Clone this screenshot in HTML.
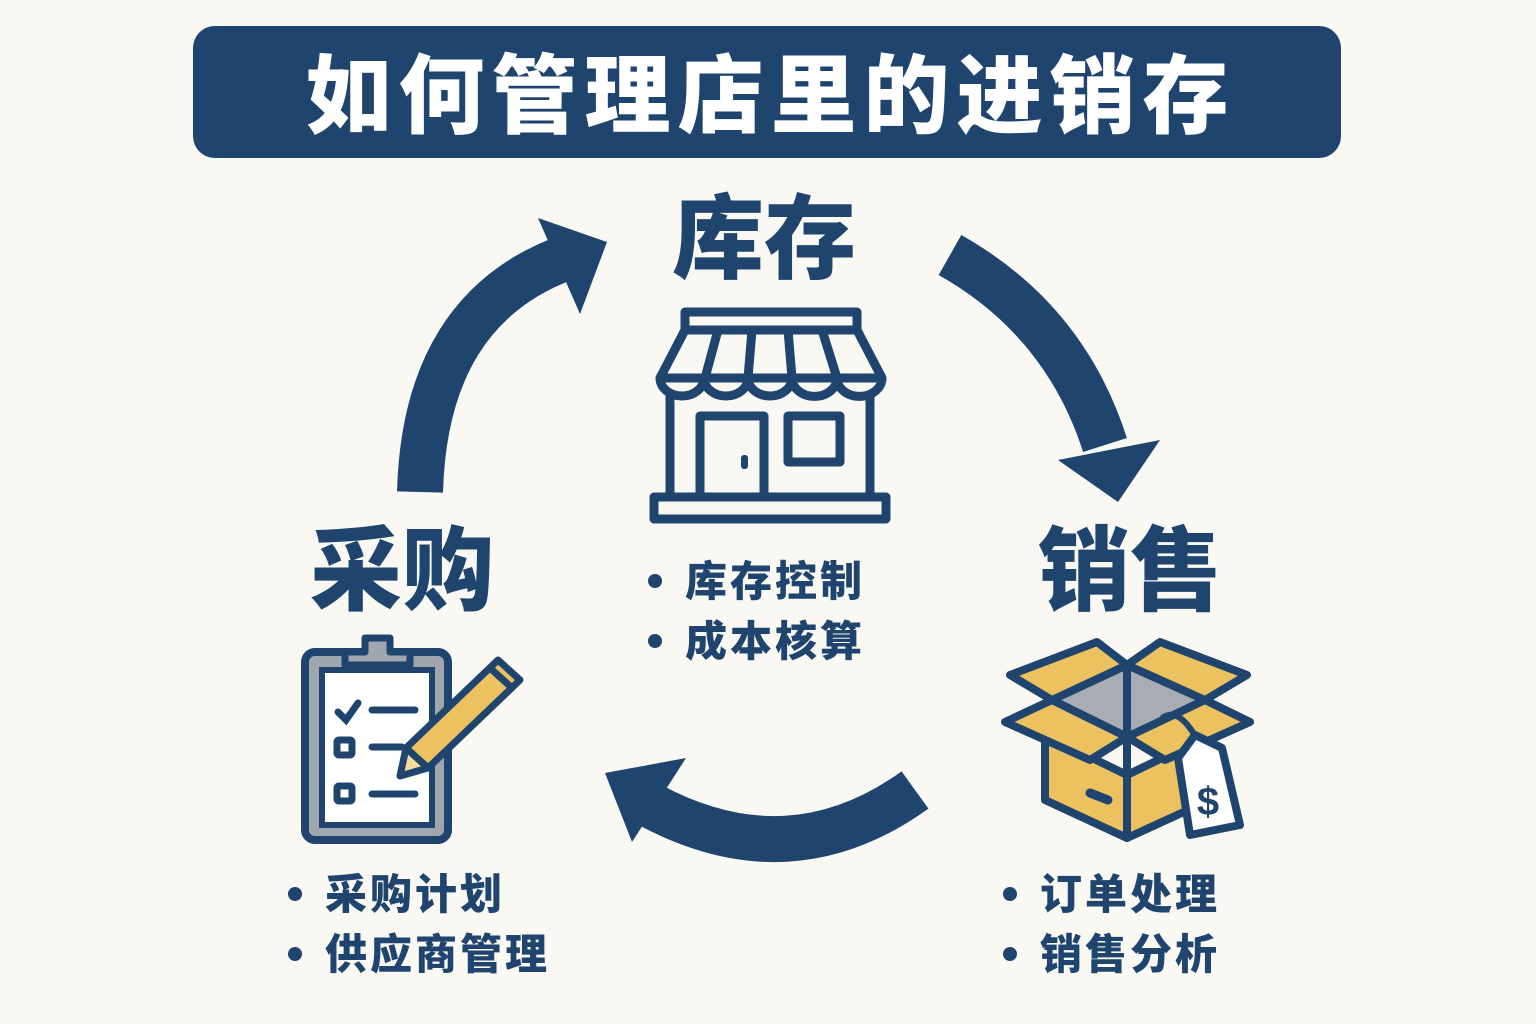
<!DOCTYPE html>
<html><head><meta charset="utf-8"><style>
body{margin:0;width:1536px;height:1024px;background:#f9f8f3;overflow:hidden;font-family:"Liberation Sans","Noto Sans CJK SC",sans-serif;}
.t{position:absolute;font-weight:900;color:#1f456e;white-space:nowrap}
.b{position:absolute;width:14px;height:14px;border-radius:50%;background:#1f456e}
.l{position:absolute;font-weight:900;color:#1f456e;white-space:nowrap;font-size:42px;line-height:60px;letter-spacing:3px}
</style></head><body>
<div style="position:absolute;left:193px;top:26px;width:1148px;height:132px;background:#1f456e;border-radius:22px"></div>
<div class="t" style="left:193px;width:1148px;top:42px;text-align:center;color:#fff;font-size:86px;line-height:110px;letter-spacing:7px;text-indent:7px">如何管理店里的进销存</div>
<div class="t" style="left:672px;top:190px;font-size:92px;line-height:100px">库存</div>
<div class="t" style="left:310px;top:522px;font-size:92px;line-height:100px">采购</div>
<div class="t" style="left:1038px;top:522px;font-size:92px;line-height:100px">销售</div>
<div class="b" style="left:648px;top:574px"></div><div class="b" style="left:648px;top:634px"></div>
<div class="l" style="left:685px;top:552px">库存控制<br>成本核算</div>
<div class="b" style="left:288px;top:887px"></div><div class="b" style="left:288px;top:947px"></div>
<div class="l" style="left:325px;top:865px">采购计划<br>供应商管理</div>
<div class="b" style="left:1003px;top:887px"></div><div class="b" style="left:1003px;top:947px"></div>
<div class="l" style="left:1040px;top:865px">订单处理<br>销售分析</div>
<svg width="1536" height="1024" style="position:absolute;left:0;top:0">
<g fill="none" stroke="#1f456e" stroke-width="46">
<path d="M420,492 Q425,310 565,258"/>
<path d="M950,255 Q1065,320 1105,445"/>
<path d="M915,790 Q790,880 650,805"/>
</g>
<g fill="#1f456e">
<polygon points="538,218 607,242 580,314"/>
<polygon points="1058,460 1160,440 1118,502"/>
<polygon points="605,773 686,758 632,842"/>
</g>
<g fill="none" stroke="#1f456e" stroke-width="9" stroke-linejoin="round">
<rect x="685" y="312" width="172" height="18"/>
<path d="M685,330 L660,378 H882 L857,330 Z"/>
<path d="M718,330 L705,378 M752,330 L748,378 M788,330 L792,378 M822,330 L837,378"/>
<path d="M660,378 a22,18 0 0 0 44,0 a22,18 0 0 0 44,0 a22,18 0 0 0 44,0 a22,18 0 0 0 45,0 a22,18 0 0 0 45,0"/>
<path d="M670,395 V497 M870,395 V497"/>
<rect x="654" y="497" width="232" height="22"/>
<rect x="700" y="416" width="64" height="81"/>
<rect x="788" y="416" width="52" height="46"/>
</g>
<rect x="741" y="455" width="7" height="14" rx="3" fill="#1f456e"/>
<rect x="305" y="652" width="143" height="188" rx="10" fill="#9fa6ae" stroke="#1f456e" stroke-width="8"/>
<rect x="322" y="670" width="110" height="155" fill="#fff" stroke="#1f456e" stroke-width="6"/>
<path d="M345,665 V652 H365 V638 H390 V652 H410 V665 Z" fill="#9fa6ae" stroke="#1f456e" stroke-width="7" stroke-linejoin="round"/>
<g stroke="#1f456e" stroke-width="7" fill="none" stroke-linecap="round">
<path d="M338,712 L346,720 L358,703"/><path d="M372,710 H415"/>
<rect x="337" y="740" width="15" height="15" rx="2"/><path d="M372,747 H402"/>
<rect x="337" y="786" width="15" height="15" rx="2"/><path d="M372,794 H415"/>
</g>
<g stroke="#1f456e" stroke-width="7" stroke-linejoin="round">
<polygon points="498,660 520,680 428,768 406,748" fill="#ecc15f"/>
<polygon points="406,748 428,768 400,776" fill="#f4dba0"/>
<path d="M490,668 L512,688" fill="none"/>
</g>
<g stroke="#1f456e" stroke-width="8" stroke-linejoin="round">
<polygon points="1127,665 1205,700 1127,737 1052,700" fill="#a9adb3"/>
<polygon points="1045,735 1127,775 1127,838 1045,800" fill="#ecc15f"/>
<polygon points="1127,775 1210,735 1210,800 1127,838" fill="#ecc15f"/>
<polygon points="1052,700 1010,675 1097,642 1127,665" fill="#ecc15f"/>
<polygon points="1127,665 1160,642 1247,675 1205,700" fill="#ecc15f"/>
<polygon points="1052,700 1005,722 1090,760 1127,737" fill="#ecc15f"/>
<polygon points="1127,737 1205,700 1250,722 1165,760" fill="#ecc15f"/>
<path d="M1127,665 V838" fill="none"/>
<path d="M1090,793 L1108,800" stroke-width="9" stroke-linecap="round" fill="none"/>
<path d="M1162,718 Q1180,705 1200,745" fill="none" stroke-width="6"/>
<path d="M1195,735 L1222,748 L1240,825 L1190,835 L1178,758 Z" fill="#fff"/>
</g>
<text x="1208" y="815" font-family="Liberation Sans" font-weight="bold" font-size="40" fill="#1f456e" text-anchor="middle">$</text>
</svg>
</body></html>
